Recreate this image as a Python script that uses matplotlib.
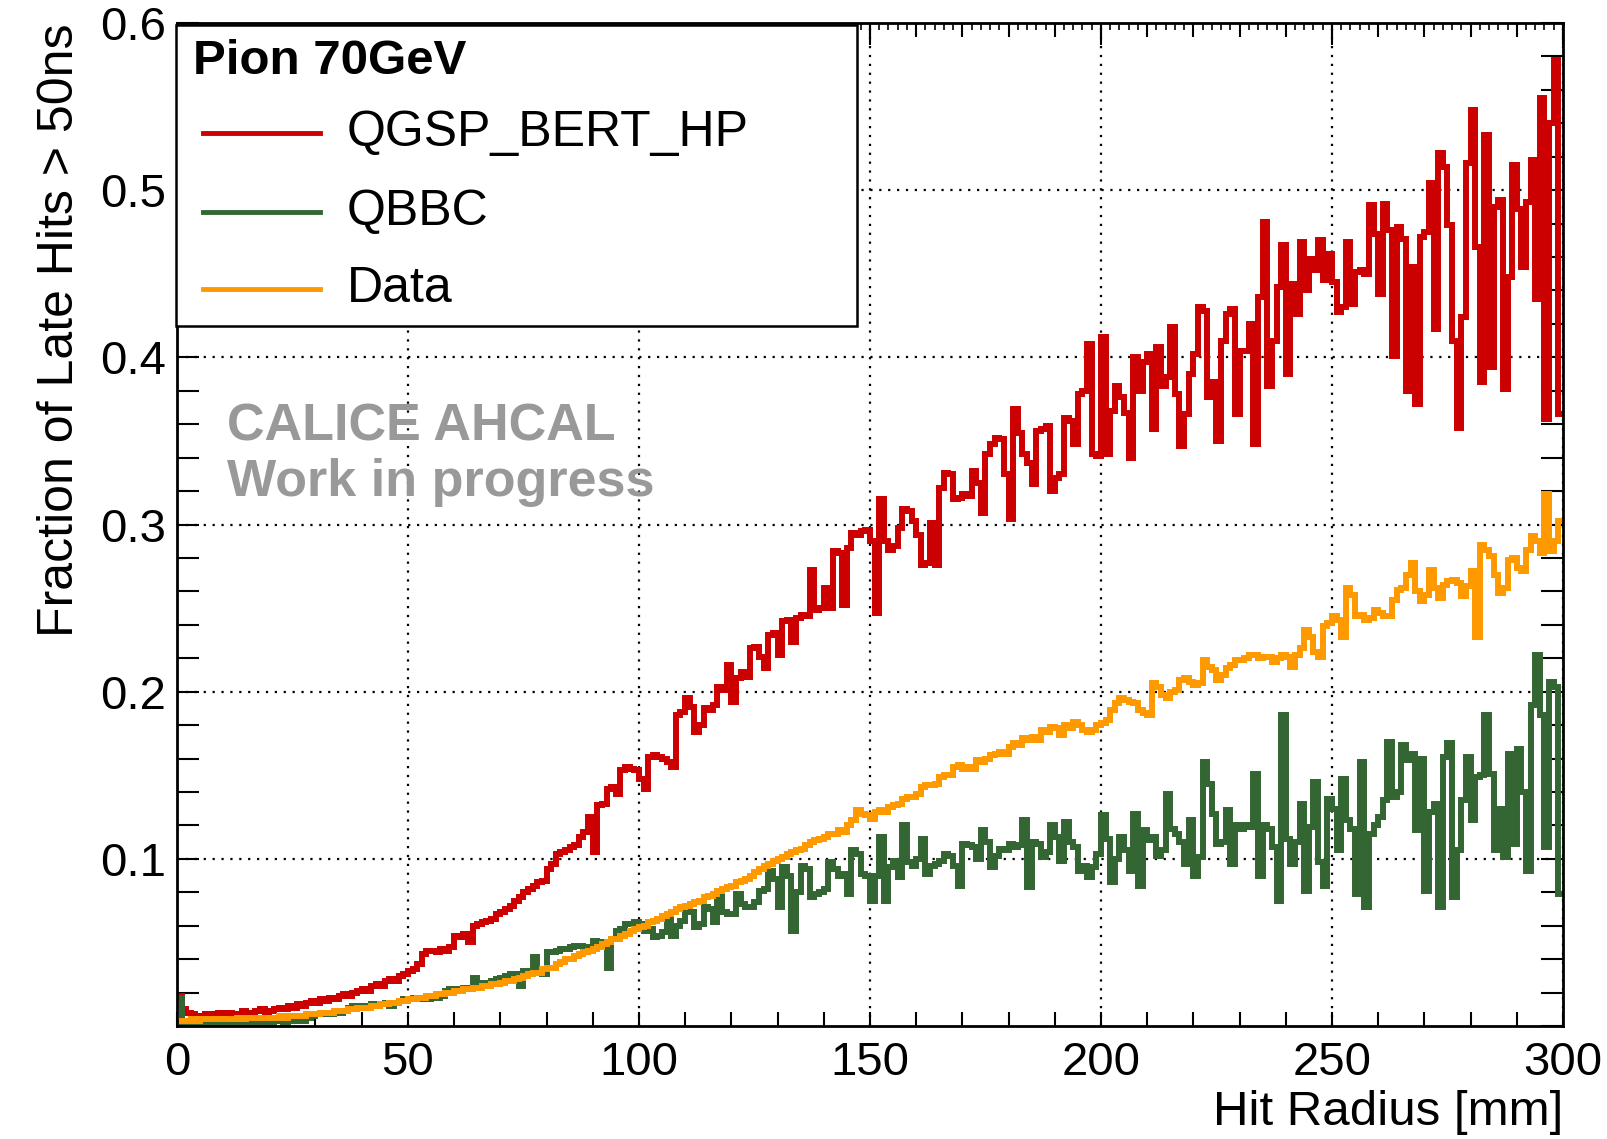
import numpy as np
import matplotlib
matplotlib.use("Agg")
import matplotlib.pyplot as plt
from matplotlib.patches import Rectangle
from matplotlib.lines import Line2D
from matplotlib.ticker import MultipleLocator, FixedLocator

plt.rcParams['font.family'] = ['Liberation Sans', 'DejaVu Sans']

# fraction of late hits (> 50 ns) per 1 mm radius bin, 0-300 mm
radius_edges = np.linspace(0, 300, 301)

qgsp_bert_hp = [
    0.018, 0.010, 0.008, 0.007, 0.006, 0.006, 0.007, 0.006, 0.007, 0.008,
    0.007, 0.008, 0.006, 0.007, 0.009, 0.008, 0.007, 0.009, 0.010, 0.008,
    0.009, 0.010, 0.011, 0.010, 0.012, 0.011, 0.013, 0.012, 0.014, 0.015,
    0.014, 0.016, 0.015, 0.017, 0.016, 0.018, 0.019, 0.018, 0.020, 0.021,
    0.022, 0.021, 0.024, 0.025, 0.024, 0.027, 0.028, 0.027, 0.030, 0.031,
    0.033, 0.034, 0.037, 0.043, 0.045, 0.045, 0.044, 0.046, 0.045, 0.047,
    0.054, 0.053, 0.055, 0.050, 0.060, 0.061, 0.062, 0.063, 0.064, 0.067,
    0.068, 0.070, 0.072, 0.075, 0.077, 0.080, 0.082, 0.084, 0.086, 0.087,
    0.094, 0.097, 0.103, 0.104, 0.105, 0.107, 0.108, 0.113, 0.116, 0.125,
    0.104, 0.132, 0.133, 0.142, 0.143, 0.139, 0.153, 0.155, 0.154, 0.153,
    0.148, 0.142, 0.161, 0.162, 0.161, 0.160, 0.158, 0.155, 0.186, 0.188,
    0.196, 0.191, 0.176, 0.180, 0.190, 0.189, 0.192, 0.203, 0.201, 0.216,
    0.194, 0.208, 0.212, 0.209, 0.226, 0.227, 0.221, 0.214, 0.234, 0.235,
    0.222, 0.242, 0.243, 0.230, 0.244, 0.246, 0.245, 0.273, 0.249, 0.250,
    0.262, 0.250, 0.284, 0.283, 0.252, 0.286, 0.295, 0.294, 0.296, 0.297,
    0.290, 0.247, 0.315, 0.290, 0.285, 0.287, 0.298, 0.309, 0.308, 0.302,
    0.294, 0.276, 0.277, 0.301, 0.276, 0.322, 0.331, 0.330, 0.315, 0.316,
    0.318, 0.317, 0.332, 0.325, 0.307, 0.342, 0.348, 0.352, 0.351, 0.330,
    0.303, 0.369, 0.355, 0.342, 0.337, 0.324, 0.356, 0.357, 0.359, 0.320,
    0.328, 0.330, 0.364, 0.362, 0.348, 0.378, 0.380, 0.408, 0.342, 0.341,
    0.412, 0.342, 0.368, 0.383, 0.376, 0.367, 0.340, 0.400, 0.380, 0.397,
    0.402, 0.357, 0.406, 0.383, 0.388, 0.418, 0.378, 0.347, 0.366, 0.390,
    0.402, 0.430, 0.428, 0.376, 0.385, 0.350, 0.410, 0.426, 0.429, 0.366,
    0.404, 0.404, 0.420, 0.348, 0.436, 0.481, 0.383, 0.410, 0.442, 0.467,
    0.390, 0.444, 0.426, 0.469, 0.440, 0.459, 0.452, 0.470, 0.446, 0.462,
    0.445, 0.427, 0.430, 0.469, 0.432, 0.451, 0.452, 0.450, 0.491, 0.474,
    0.438, 0.492, 0.476, 0.401, 0.478, 0.471, 0.380, 0.454, 0.372, 0.472,
    0.475, 0.504, 0.417, 0.522, 0.514, 0.479, 0.410, 0.358, 0.424, 0.516,
    0.548, 0.466, 0.385, 0.533, 0.394, 0.490, 0.494, 0.381, 0.448, 0.515,
    0.489, 0.454, 0.493, 0.518, 0.435, 0.555, 0.363, 0.540, 0.578, 0.366,
]

qbbc = [
    0.017, 0.002, 0.002, 0.001, 0.001, 0.000, 0.001, 0.000, 0.001, 0.001,
    0.002, 0.001, 0.000, 0.001, 0.001, 0.002, 0.001, 0.002, 0.001, 0.002,
    0.002, 0.003, 0.003, 0.002, 0.003, 0.003, 0.004, 0.003, 0.005, 0.006,
    0.007, 0.007, 0.008, 0.007, 0.008, 0.008, 0.009, 0.011, 0.012, 0.011,
    0.012, 0.012, 0.013, 0.012, 0.013, 0.014, 0.012, 0.014, 0.015, 0.016,
    0.016, 0.017, 0.016, 0.017, 0.016, 0.018, 0.017, 0.018, 0.021, 0.022,
    0.021, 0.022, 0.023, 0.022, 0.029, 0.026, 0.025, 0.026, 0.027, 0.028,
    0.029, 0.030, 0.031, 0.031, 0.024, 0.033, 0.033, 0.041, 0.032, 0.031,
    0.044, 0.044, 0.045, 0.046, 0.046, 0.047, 0.048, 0.048, 0.046, 0.047,
    0.051, 0.050, 0.049, 0.035, 0.052, 0.057, 0.058, 0.061, 0.061, 0.062,
    0.061, 0.057, 0.058, 0.053, 0.054, 0.056, 0.064, 0.054, 0.060, 0.063,
    0.069, 0.068, 0.059, 0.061, 0.071, 0.070, 0.062, 0.079, 0.068, 0.067,
    0.067, 0.079, 0.073, 0.071, 0.071, 0.074, 0.081, 0.082, 0.093, 0.088,
    0.071, 0.095, 0.090, 0.057, 0.080, 0.096, 0.094, 0.077, 0.079, 0.080,
    0.082, 0.098, 0.094, 0.090, 0.091, 0.079, 0.105, 0.103, 0.091, 0.090,
    0.075, 0.090, 0.113, 0.075, 0.095, 0.099, 0.089, 0.120, 0.098, 0.096,
    0.100, 0.112, 0.091, 0.096, 0.097, 0.099, 0.103, 0.102, 0.096, 0.084,
    0.109, 0.108, 0.107, 0.100, 0.117, 0.110, 0.095, 0.102, 0.106, 0.105,
    0.109, 0.107, 0.108, 0.123, 0.083, 0.110, 0.109, 0.101, 0.104, 0.120,
    0.113, 0.099, 0.122, 0.110, 0.107, 0.093, 0.096, 0.089, 0.095, 0.103,
    0.126, 0.112, 0.086, 0.100, 0.113, 0.105, 0.093, 0.127, 0.084, 0.117,
    0.111, 0.113, 0.102, 0.105, 0.139, 0.118, 0.115, 0.110, 0.097, 0.123,
    0.090, 0.101, 0.158, 0.145, 0.127, 0.109, 0.110, 0.129, 0.097, 0.120,
    0.118, 0.120, 0.119, 0.151, 0.090, 0.120, 0.118, 0.107, 0.075, 0.186,
    0.112, 0.097, 0.110, 0.133, 0.081, 0.119, 0.146, 0.098, 0.084, 0.136,
    0.130, 0.105, 0.148, 0.123, 0.118, 0.079, 0.158, 0.071, 0.115, 0.120,
    0.125, 0.135, 0.170, 0.137, 0.140, 0.168, 0.159, 0.163, 0.117, 0.160,
    0.081, 0.128, 0.133, 0.071, 0.161, 0.169, 0.077, 0.105, 0.135, 0.161,
    0.123, 0.149, 0.150, 0.186, 0.151, 0.105, 0.130, 0.101, 0.163, 0.109,
    0.166, 0.140, 0.093, 0.192, 0.222, 0.186, 0.107, 0.206, 0.203, 0.079,
]

data = [
    0.003, 0.003, 0.003, 0.004, 0.003, 0.004, 0.004, 0.004, 0.004, 0.004,
    0.004, 0.004, 0.004, 0.005, 0.004, 0.005, 0.005, 0.005, 0.005, 0.005,
    0.005, 0.005, 0.006, 0.005, 0.006, 0.006, 0.006, 0.006, 0.007, 0.007,
    0.007, 0.008, 0.008, 0.008, 0.009, 0.009, 0.009, 0.010, 0.010, 0.011,
    0.011, 0.011, 0.012, 0.012, 0.013, 0.013, 0.014, 0.014, 0.015, 0.015,
    0.016, 0.016, 0.017, 0.017, 0.018, 0.018, 0.019, 0.019, 0.020, 0.020,
    0.021, 0.021, 0.022, 0.022, 0.023, 0.023, 0.024, 0.024, 0.025, 0.025,
    0.026, 0.027, 0.027, 0.028, 0.029, 0.030, 0.031, 0.032, 0.032, 0.034,
    0.035, 0.035, 0.037, 0.038, 0.040, 0.040, 0.042, 0.043, 0.044, 0.045,
    0.046, 0.047, 0.049, 0.050, 0.052, 0.052, 0.054, 0.055, 0.057, 0.058,
    0.059, 0.060, 0.062, 0.063, 0.064, 0.066, 0.067, 0.068, 0.070, 0.071,
    0.072, 0.073, 0.074, 0.075, 0.077, 0.078, 0.079, 0.081, 0.082, 0.083,
    0.084, 0.086, 0.087, 0.088, 0.090, 0.092, 0.094, 0.096, 0.097, 0.099,
    0.100, 0.101, 0.103, 0.104, 0.105, 0.106, 0.108, 0.110, 0.111, 0.112,
    0.113, 0.115, 0.115, 0.117, 0.116, 0.120, 0.123, 0.129, 0.127, 0.126,
    0.124, 0.128, 0.129, 0.128, 0.131, 0.132, 0.133, 0.136, 0.137, 0.137,
    0.139, 0.143, 0.144, 0.144, 0.145, 0.149, 0.150, 0.150, 0.155, 0.156,
    0.154, 0.155, 0.154, 0.159, 0.158, 0.160, 0.162, 0.163, 0.164, 0.163,
    0.167, 0.169, 0.168, 0.172, 0.171, 0.173, 0.171, 0.177, 0.176, 0.179,
    0.178, 0.174, 0.180, 0.178, 0.182, 0.180, 0.177, 0.176, 0.177, 0.180,
    0.181, 0.183, 0.189, 0.193, 0.196, 0.195, 0.194, 0.193, 0.189, 0.187,
    0.186, 0.205, 0.203, 0.198, 0.196, 0.200, 0.201, 0.207, 0.208, 0.206,
    0.204, 0.205, 0.219, 0.215, 0.213, 0.207, 0.210, 0.214, 0.216, 0.219,
    0.219, 0.220, 0.222, 0.222, 0.220, 0.221, 0.221, 0.218, 0.220, 0.222,
    0.221, 0.215, 0.222, 0.226, 0.237, 0.233, 0.224, 0.221, 0.239, 0.241,
    0.245, 0.243, 0.233, 0.262, 0.258, 0.245, 0.246, 0.243, 0.244, 0.249,
    0.247, 0.245, 0.245, 0.255, 0.261, 0.262, 0.270, 0.277, 0.260, 0.254,
    0.258, 0.273, 0.262, 0.256, 0.264, 0.266, 0.267, 0.265, 0.257, 0.263,
    0.272, 0.233, 0.288, 0.285, 0.281, 0.270, 0.259, 0.262, 0.279, 0.280,
    0.274, 0.272, 0.285, 0.293, 0.290, 0.283, 0.318, 0.284, 0.290, 0.302,
]

series_names = ["QGSP_BERT_HP", "QBBC", "Data"]
series_colors = ["#cc0000", "#336633", "#ff9900"]

fig = plt.figure(figsize=(16.08, 11.39), dpi=100)
ax = fig.add_axes([0.110, 0.0992, 0.862, 0.8806])

for vals, col in zip([qgsp_bert_hp, qbbc, data], series_colors):
    ax.stairs(vals, radius_edges, baseline=None, color=col, lw=4.3, zorder=3)

ax.set_xlim(0, 300)
ax.set_ylim(0, 0.6)

# ROOT-like frame, inward ticks on all sides, dotted grid at major ticks
ax.xaxis.set_major_locator(MultipleLocator(50))
ax.xaxis.set_minor_locator(MultipleLocator(10))
ax.yaxis.set_major_locator(FixedLocator([0.1, 0.2, 0.3, 0.4, 0.5, 0.6]))
ax.yaxis.set_minor_locator(MultipleLocator(0.02))
ax.set_yticklabels(["0.1", "0.2", "0.3", "0.4", "0.5", "0.6"])
ax.tick_params(axis='x', which='both', direction='in', length=10, width=1.5,
               labelsize=34, pad=11, top=False)
ax.tick_params(axis='y', which='both', direction='in', length=16, width=1.5,
               labelsize=34, pad=8, right=True)
ax.grid(True, which='major', color='black', linestyle=(0, (1, 3)), lw=1.6)
for sp in ax.spines.values():
    sp.set_linewidth(2.0)
    sp.set_zorder(5)

top = ax.secondary_xaxis('top')
top.xaxis.set_major_locator(MultipleLocator(50))
top.xaxis.set_minor_locator(MultipleLocator(2))
top.tick_params(which='major', direction='in', length=16, width=1.5, labeltop=False)
top.tick_params(which='minor', direction='in', length=5, width=1.2)
top2 = ax.secondary_xaxis('top')
top2.xaxis.set_major_locator(MultipleLocator(10))
top2.xaxis.set_minor_locator(MultipleLocator(2))
top2.tick_params(which='major', direction='in', length=10, width=1.5, labeltop=False)
top2.tick_params(which='minor', direction='in', length=0)

ax.set_xlabel("Hit Radius [mm]", fontsize=35.5, loc='right')
ax.xaxis.set_label_coords(1.0, -0.064)
ax.set_ylabel("Fraction of Late Hits > 50ns", fontsize=36, loc='top')
ax.yaxis.set_label_coords(-0.068, 1.0)

ax.text(0.036, 0.597, "CALICE AHCAL", transform=ax.transAxes, fontsize=37.5,
        fontweight='bold', color='#999999', va='center')
ax.text(0.036, 0.542, "Work in progress", transform=ax.transAxes, fontsize=37.5,
        fontweight='bold', color='#999999', va='center')

# legend box
W, H = 1608.0, 1139.0
box = Rectangle((176 / W, 1 - 326 / H), (857 - 176) / W, (326 - 25) / H,
                transform=fig.transFigure, facecolor='white', edgecolor='black',
                lw=1.8, zorder=10)
fig.add_artist(box)
fig.text(193 / W, 1 - 61 / H, "Pion 70GeV", fontsize=35.5, fontweight='bold',
         va='center', zorder=11)
for name, col, yy in zip(series_names, series_colors, [133, 212, 289]):
    fig.add_artist(Line2D([203 / W, 320 / W], [1 - yy / H, 1 - yy / H],
                          transform=fig.transFigure, color=col, lw=3.5, zorder=11))
    fig.text(347 / W, 1 - yy / H, name, fontsize=36, va='center', zorder=11)

fig.savefig("out.png", dpi=100)
